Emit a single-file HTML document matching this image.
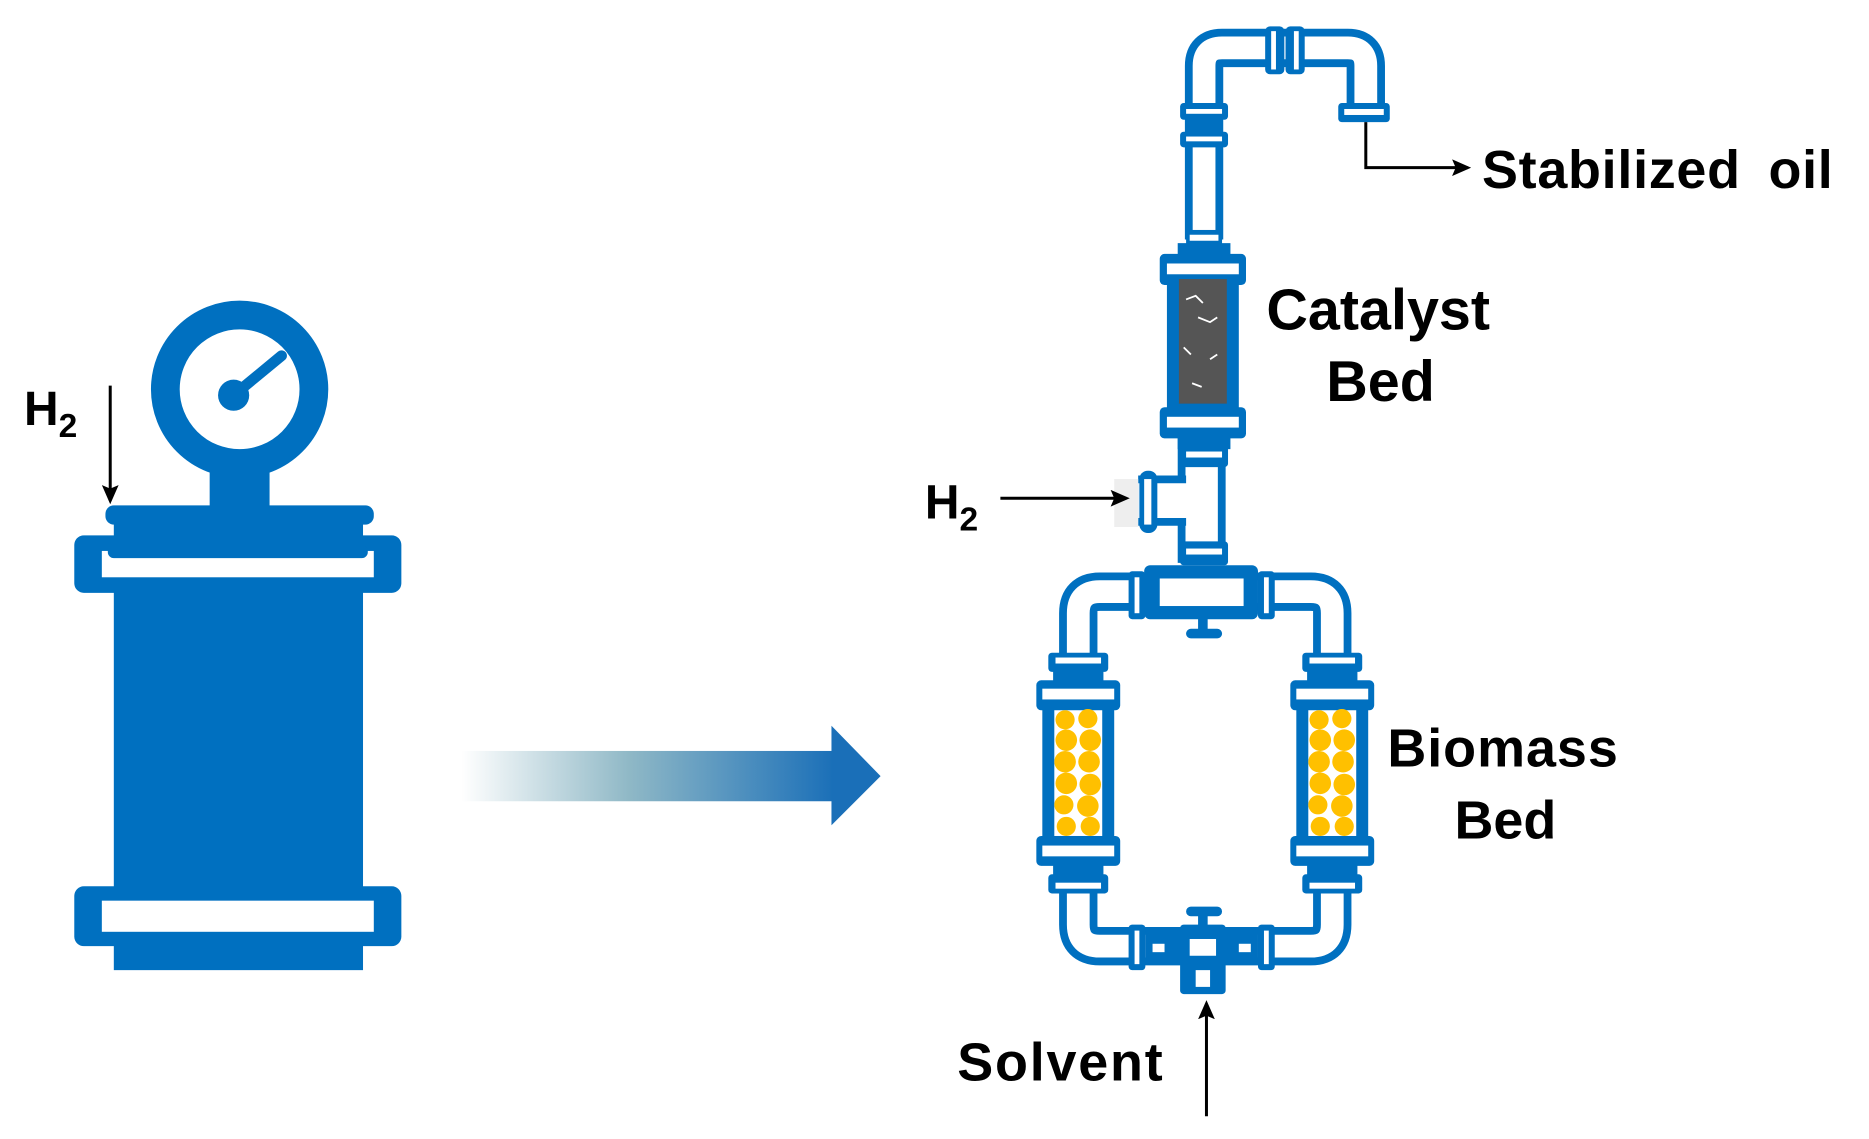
<!DOCTYPE html>
<html><head><meta charset="utf-8"><style>
html,body{margin:0;padding:0;background:#fff;}
svg{display:block;}
text{font-family:"Liberation Sans",Arial,sans-serif;font-weight:bold;fill:#000;}
</style></head><body>
<svg width="1869" height="1139" viewBox="0 0 1560 951" preserveAspectRatio="none" xmlns="http://www.w3.org/2000/svg">
<defs>
<linearGradient id="g" x1="0" x2="1" y1="0" y2="0">
<stop offset="0" stop-color="#ffffff"/>
<stop offset="0.45" stop-color="#8fb8c6"/>
<stop offset="1" stop-color="#1a6fb8"/>
</linearGradient>
<marker id="ah" markerWidth="16" markerHeight="14" refX="13" refY="7" orient="auto" markerUnits="userSpaceOnUse" viewBox="0 0 16 14">
<path d="M0,0 L16,7 L0,14 L3,7 Z" fill="#000"/></marker>
</defs>

<!-- LEFT VESSEL -->
<g fill="#0070c0">
<circle cx="200" cy="325" r="62" fill="none" stroke="#0070c0" stroke-width="24"/>
<circle cx="195" cy="330" r="13"/>
<path d="M195,330 L235,297" stroke="#0070c0" stroke-width="9" stroke-linecap="round"/>
<rect x="175" y="385" width="50" height="45"/>
<rect x="88" y="422" width="224" height="16" rx="7"/>
<rect x="95" y="425" width="208" height="385"/>
<rect x="62" y="447" width="273" height="48" rx="8"/>
<rect x="62" y="740" width="273" height="50" rx="8"/>
</g>
<rect x="85" y="460" width="227" height="22" fill="#fff"/>
<rect x="90" y="455" width="217" height="11" rx="5" fill="#0070c0"/>
<rect x="85" y="752" width="227" height="26" fill="#fff"/>
<text x="20" y="355" font-size="40">H<tspan font-size="28" dy="10">2</tspan></text>
<line x1="92" y1="322" x2="92" y2="418" stroke="#000" stroke-width="2.5" marker-end="url(#ah)"/>

<!-- BIG ARROW -->
<rect x="385" y="627" width="312" height="42" fill="url(#g)"/>
<path d="M694,606 L735,648 L694,689 Z" fill="#1a6fb8"/>

<!-- PIPES -->
<g fill="none" stroke-linecap="butt">
<path d="M1005,200 V55 Q1005,40 1020,40 H1125 Q1140,40 1140,55 V95" stroke="#0070c0" stroke-width="32"/>
<path d="M1005,200 V55 Q1005,40 1020,40 H1125 Q1140,40 1140,55 V95" stroke="#fff" stroke-width="19"/>
<path d="M1003,360 V470" stroke="#0070c0" stroke-width="40"/>
<path d="M1003,360 V470" stroke="#fff" stroke-width="27"/>
<path d="M900,560 V512 Q900,494 918,494 H1094 Q1112,494 1112,512 V560" stroke="#0070c0" stroke-width="32"/>
<path d="M900,560 V512 Q900,494 918,494 H1094 Q1112,494 1112,512 V560" stroke="#fff" stroke-width="19"/>
<path d="M900,725 V772 Q900,790 918,790 H1094 Q1112,790 1112,772 V725" stroke="#0070c0" stroke-width="32"/>
<path d="M900,725 V772 Q900,790 918,790 H1094 Q1112,790 1112,772 V725" stroke="#fff" stroke-width="19"/>
<path d="M950,418 H990" stroke="#0070c0" stroke-width="42"/>
<path d="M950,418 H992" stroke="#fff" stroke-width="29"/>
</g>
<rect x="930" y="400" width="20" height="40" fill="#eee"/>
<rect x="951" y="393" width="15" height="52" rx="7" fill="#0070c0"/><rect x="955" y="400" width="6" height="38" fill="#fff"/>

<g fill="#0070c0">
<rect x="1056" y="22" width="16" height="40" rx="4"/><rect x="1073" y="22" width="16" height="40" rx="4"/>
<rect x="985" y="86" width="40" height="14" rx="3"/><rect x="990" y="98" width="30" height="14"/><rect x="985" y="110" width="40" height="13" rx="3"/>
<rect x="1117" y="86" width="43" height="16" rx="3"/>
<rect x="990" y="192" width="30" height="12"/>
<rect x="983" y="203" width="44" height="10"/>
<rect x="968" y="212" width="72" height="26" rx="4"/>
<rect x="974" y="235" width="60" height="110"/>
<rect x="968" y="340" width="72" height="26" rx="4"/>
<rect x="983" y="363" width="44" height="12"/>
<rect x="985" y="372" width="40" height="18" rx="3"/>
<rect x="985" y="452" width="40" height="20" rx="3"/>
<rect x="955" y="472" width="95" height="45" rx="5"/>
<rect x="942" y="477" width="14" height="40" rx="3"/><rect x="1050" y="477" width="14" height="40" rx="3"/>
<rect x="1000" y="515" width="8" height="14"/><rect x="990" y="525" width="30" height="8" rx="4"/>
<rect x="990" y="757" width="30" height="8" rx="4"/><rect x="1000" y="763" width="8" height="12"/>
<rect x="942" y="772" width="14" height="38" rx="3"/><rect x="1050" y="772" width="14" height="38" rx="3"/>
<rect x="956" y="778" width="94" height="26"/>
<rect x="985" y="772" width="38" height="58" rx="3"/>
</g>
<g fill="#fff">
<rect x="1061" y="26" width="4" height="32"/><rect x="1080" y="26" width="4" height="32"/>
<rect x="990" y="91" width="30" height="4"/><rect x="990" y="114" width="30" height="4"/>
<rect x="1122" y="91" width="33" height="5"/>
<rect x="993" y="196" width="24" height="5"/>
<rect x="974" y="220" width="60" height="9"/>
<rect x="974" y="348" width="60" height="9"/>
<rect x="990" y="377" width="30" height="5"/>
<rect x="990" y="458" width="30" height="5"/>
<rect x="968" y="483" width="70" height="23"/>
<rect x="947" y="482" width="4" height="30"/><rect x="1055" y="482" width="4" height="30"/>
<rect x="947" y="777" width="4" height="28"/><rect x="1055" y="777" width="4" height="28"/>
<rect x="993" y="784" width="22" height="14"/><rect x="998" y="810" width="12" height="14"/>
<rect x="962" y="788" width="10" height="7"/><rect x="1034" y="788" width="10" height="7"/>
</g>
<rect x="984" y="233" width="40" height="104" fill="#555"/>
<g stroke="#fff" stroke-width="1.5" fill="none">
<path d="M990,250 l8,-3 l6,6 M1000,265 l10,4 l6,-4 M988,290 l6,6 M1010,300 l6,-4 M995,320 l8,3"/>
</g>

<g id="col">
<g fill="#0070c0">
<rect x="875" y="545" width="50" height="16" rx="3"/>
<rect x="879" y="558" width="42" height="12"/>
<rect x="865" y="568" width="70" height="25" rx="4"/>
<rect x="870" y="590" width="60" height="112"/>
<rect x="865" y="698" width="70" height="25" rx="4"/>
<rect x="879" y="720" width="42" height="12"/>
<rect x="875" y="730" width="50" height="16" rx="3"/>
</g>
<g fill="#fff">
<rect x="881" y="549" width="38" height="5"/>
<rect x="870" y="575" width="60" height="9"/>
<rect x="870" y="706" width="60" height="9"/>
<rect x="881" y="737" width="38" height="5"/>
<rect x="880" y="593" width="40" height="105"/>
</g>
<g fill="#ffc000">
<circle cx="889" cy="601" r="8"/><circle cx="908" cy="600" r="8"/>
<circle cx="890" cy="618" r="9"/><circle cx="910" cy="618" r="9"/>
<circle cx="889" cy="636" r="9"/><circle cx="909" cy="636" r="9"/>
<circle cx="890" cy="654" r="9"/><circle cx="910" cy="655" r="9"/>
<circle cx="888" cy="672" r="8"/><circle cx="908" cy="673" r="9"/>
<circle cx="890" cy="690" r="8"/><circle cx="910" cy="690" r="8"/>
</g>
</g>
<use href="#col" x="212"/>

<path d="M1140,102 V140 H1225" fill="none" stroke="#000" stroke-width="2.5" marker-end="url(#ah)"/>
<text x="1237" y="157" font-size="45" letter-spacing="0.6" word-spacing="10">Stabilized oil</text>
<text x="1057" y="275" font-size="48">Catalyst</text>
<text x="1107" y="335" font-size="48">Bed</text>
<text x="772" y="433" font-size="40">H<tspan font-size="28" dy="10">2</tspan></text>
<line x1="835" y1="416" x2="940" y2="416" stroke="#000" stroke-width="2.5" marker-end="url(#ah)"/>
<text x="1158" y="640" font-size="45" letter-spacing="0.8">Biomass</text>
<text x="1214" y="700" font-size="45">Bed</text>
<text x="799" y="902" font-size="45" letter-spacing="1.5">Solvent</text>
<line x1="1007" y1="932" x2="1007" y2="838" stroke="#000" stroke-width="2.5" marker-end="url(#ah)"/>
</svg>
</body></html>
